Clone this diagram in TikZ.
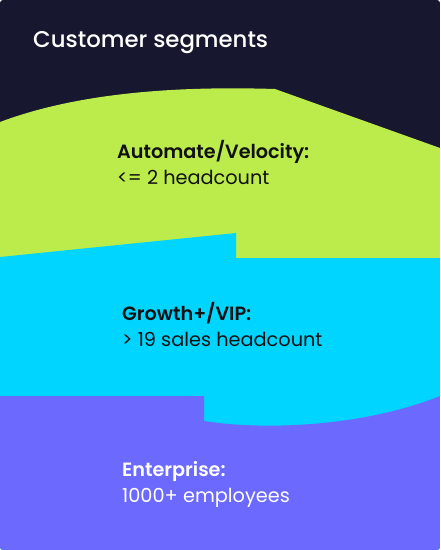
\documentclass[tikz,border=0pt]{standalone}
\usepackage{fontspec}
\setmainfont{Poppins}
\IfFontExistsTF{Poppins Medium}
  {\newfontfamily\segtitlefont{Poppins Medium}}
  {\newfontfamily\segtitlefont{Poppins}[FakeBold=0.8]}
\IfFontExistsTF{Poppins SemiBold}
  {\newfontfamily\segheadfont{Poppins SemiBold}}
  {\newfontfamily\segheadfont{Poppins Bold}}
\usepackage{tikz}
\usetikzlibrary{positioning}

\definecolor{segdark}{HTML}{17172F}
\definecolor{seggreen}{HTML}{BCEC4C}
\definecolor{segcyan}{HTML}{00D5FF}
\definecolor{segpurple}{HTML}{6C69FF}
\definecolor{seginkdark}{HTML}{111111}

\begin{document}
\begin{tikzpicture}[
        x=1pt,
        y=-1pt,
        band/.style={draw=none},
        title/.style={anchor=base west, inner sep=0pt, text=white, font=\segtitlefont\fontsize{22.8}{26}\selectfont},
        head/.style={anchor=base west, inner sep=0pt, font=\segheadfont\fontsize{19.2}{22}\selectfont},
        sub/.style={anchor=base west, inner sep=0pt, font=\fontsize{19.3}{22}\selectfont}
    ]
        \useasboundingbox (0,0) rectangle (440,550);
        \begin{scope}
        \clip[rounded corners=3pt] (0,0) rectangle (440,550);
        \fill[band, segdark] (0,0) rectangle (440,550);
        \fill[band, seggreen] (0,122) .. controls (80,92) and (180,86) .. (275,89)
            -- (440,148) -- (440,550) -- (0,550) -- cycle;
        \fill[band, segcyan] (0,257) -- (236,233) -- (236,258) -- (440,258)
            -- (440,550) -- (0,550) -- cycle;
        \fill[band, segpurple] (0,396) -- (204,396) -- (204,421)
            .. controls (260,430) and (360,428) .. (440,396)
            -- (440,550) -- (0,550) -- cycle;
        \end{scope}

        \node[title] (ttl) at (33,47) {Customer segments};

        \node[head, text=seginkdark] (velo) at (117,158) {Automate/Velocity:};
        \node[sub, text=seginkdark] (velosub) at (117,184) {<= 2 headcount};

        \node[head, text=seginkdark] (vip) at (122,320) {Growth+/VIP:};
        \node[sub, text=seginkdark] (vipsub) at (122,346) {> 19 sales headcount};

        \node[head, text=white] (ent) at (122,476) {Enterprise:};
        \node[sub, text=white] (entsub) at (122,502) {1000+ employees};
    \end{tikzpicture}
\end{document}
